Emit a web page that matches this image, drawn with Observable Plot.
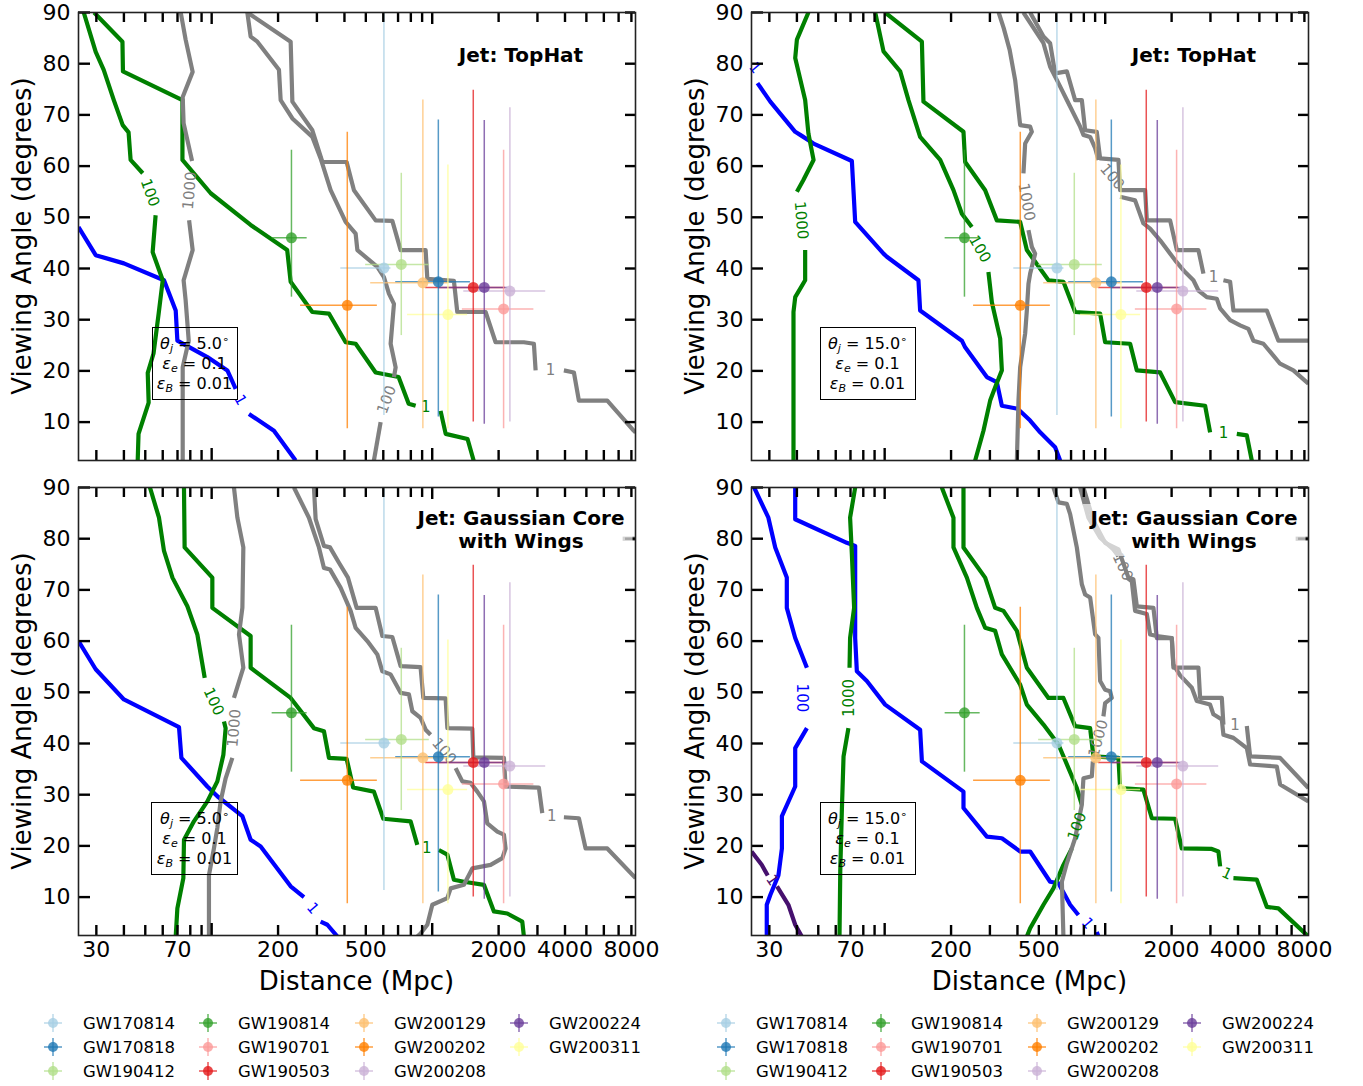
<!DOCTYPE html>
<html>
<head>
<meta charset="utf-8">
<script src="https://cdn.jsdelivr.net/npm/d3@7"></script>
<script src="https://cdn.jsdelivr.net/npm/@observablehq/plot@0.6"></script>
<style>
  html, body { margin: 0; padding: 0; background: #fff; }
  #root { position: relative; width: 1363px; height: 1086px; overflow: hidden; font-family: "DejaVu Sans", sans-serif; color: #000; }
  .abs { position: absolute; }
  .axlab { position: absolute; font-size: 26px; white-space: nowrap; transform: translate(-50%, -50%); }
  .ylab { transform: translate(-50%, -50%) rotate(-90deg); }
  .title { position: absolute; transform: translate(-50%, -50%); background: rgba(255,255,255,0.65); padding: 3px 8px; font-weight: bold; font-size: 20px; line-height: 23px; text-align: center; white-space: nowrap; }
  .pbox { position: absolute; border: 1.3px solid #000; box-sizing: border-box; font-size: 16px; line-height: 20px; text-align: center; display: flex; flex-direction: column; justify-content: center; white-space: nowrap; }
  .pbox sub { font-size: 11px; vertical-align: -3px; line-height: 0; }
  .pbox sup { font-size: 11px; vertical-align: 6px; line-height: 0; }
  .leg { position: absolute; font-size: 16.5px; white-space: nowrap; transform: translateY(-50%); }
</style>
</head>
<body>
<div id="root"></div>
<script>
// ---------------- axes ----------------
const XDOM = [24.9, 8350];
const YDOM = [2.5, 90];
const yTicks = [10, 20, 30, 40, 50, 60, 70, 80, 90];
const xTickLabels = [30, 70, 200, 500, 2000, 4000, 8000];
const xMinorTicks = [30, 40, 50, 60, 70, 80, 90, 200, 300, 400, 500, 600, 700, 800, 900, 2000, 3000, 4000, 5000, 6000, 7000, 8000];
const xMajorTicks = [100, 1000];

// ---------------- events (error bars) ----------------
const events   = ["GW170814","GW170818","GW190412","GW190814","GW190701","GW190503","GW200129","GW200202","GW200208","GW200224","GW200311"];
const eventColors = ["#a6cee3","#1f78b4","#b2df8a","#33a02c","#fb9a99","#e31a1c","#fdbf6f","#ff7f00","#cab2d6","#6a3d9a","#ffff99"];
const distance = [604, 1066, 724, 230, 2107, 1535, 907, 412, 2250, 1722, 1178];
const distLo   = [385, 683, 499, 188, 1370, 933, 526, 253, 1390, 1070, 773];
const distHi   = [650, 1490, 970, 271, 2890, 2150, 1190, 564, 3270, 2200, 1447];
const angle    = [40.1, 37.4, 40.8, 46.0, 32.1, 36.3, 37.2, 32.8, 35.6, 36.3, 31.0];
const angleLo  = [11.3, 11.0, 26.9, 34.4, 8.7, 10.0, 8.7, 8.7, 10.0, 9.6, 8.7];
const angleHi  = [90, 69.0, 58.6, 63.1, 63.1, 74.8, 72.9, 66.6, 71.4, 68.9, 60.2];

// ---------------- Panel 1: TopHat, theta_j = 5 ----------------
const TH5_blue1_a = [[24.9,48.1],[29.8,42.6],[40.0,41.0],[60.8,37.7],[68.7,31.8],[69.9,25.9],[95.6,22.7],[117.8,20.1],[128.5,16.5]];
const TH5_blue1_b = [[147.6,11.6],[191.6,8.3],[240.3,2.5]];
const TH5_green100_a = [[26.3,90],[29.8,82.3],[32.4,78.8],[36.0,72.9],[39.5,68.0],[42.0,66.6],[42.9,61.2],[48.7,58.6]];
const TH5_green100_b = [[55.7,50.4],[54.0,43.2],[60.0,37.7],[57.5,31.2],[54.5,23.4],[51.3,19.6],[51.8,13.8],[46.6,7.7],[46.2,2.5]];
const TH5_green1_a = [[29.3,90],[39.4,84.3],[39.6,78.5],[73.7,72.9],[73.7,61.2],[99.0,54.7],[150.2,48.5],[220.0,43.6],[228.1,37.4],[286,31.5],[340.2,31.2],[405,25.6],[449.6,25.3],[553.9,19.7],[704,18.8],[782,13.6],[841,13.2]];
const TH5_green1_b = [[1091,12.2],[1151,7.7],[1446,6.7],[1541,2.5]];
const TH5_gray1000_a = [[72.4,90],[76.2,84.7],[82.0,78.4],[73.9,73.5],[74.6,68.4],[81.5,61.0]];
const TH5_gray1000_b = [[79.0,49.4],[82.0,43.6],[74.6,37.7],[76.2,33.8],[78.7,25.9],[73.9,20.7],[73.9,2.5]];
const TH5_gray1_a = [[145.1,90],[228.1,84.3],[232.2,72.6],[286.1,67.0],[317.6,60.8],[409.3,60.8],[441.7,55.3],[553.9,49.4],[659.4,49.3],[719.1,43.6],[933.5,43.6],[950.1,38.0],[1254,37.6],[1299,31.5],[1746,31.5],[1938,25.6],[2604,25.6],[2891,25.3],[2943,20.1]];
const TH5_gray1_b = [[3954,20.1],[4389,19.7],[4624,14.2],[6220,14.2],[8209,8.3],[8356,8.0]];
const TH5_gray100_a = [[145.1,90],[150.2,85.3],[161.1,84.3],[201.9,78.8],[205.5,72.9],[232.2,69.3],[286.1,65.7],[311.9,61.5],[346.3,55.3],[405,49.1],[449.6,46.8],[457.7,43.6],[563.7,40.3],[604,38.3],[636.3,35.1],[670.6,33.1],[647.8,25.3],[682.6,20.7],[670.6,18.8]];
const TH5_gray100_b = [[583.5,10.0],[544,2.5]];
const TH5_labels = [["100",52.5,54.8],["1000",79.5,55.2],["1",135,14.3],["1",935,12.9],["100",622,14.4],["1",3441,20.1]];

// ---------------- Panel 2: TopHat, theta_j = 15 ----------------
const TH15_blue1 = [[26.5,76.2],[30.3,72.6],[39.3,66.7],[41.4,66.1],[47.6,64.4],[71.0,61.0],[72.2,55.3],[73.5,49.1],[98.8,42.9],[102.3,42.3],[142.3,37.7],[144.8,31.8],[223.9,25.9],[231.7,24.6],[290.6,18.8],[322.6,17.8],[339.9,13.2],[400.8,12.6],[456.7,10.3],[506.9,8.0],[592.8,5.1],[624.6,2.5]];
const TH15_green1000_a = [[45.1,90],[40.0,84.7],[39.3,81.1],[43.6,72.9],[45.1,66.4],[47.6,61.2],[42.8,57.3],[40.0,55.0]];
const TH15_green1000_b = [[43.6,43.6],[43.6,37.7],[39.3,34.4],[38.6,31.5],[38.6,2.5]];
const TH15_green100_a = [[90.6,90],[98.8,82.4],[117.6,78.5],[128.2,72.9],[144.8,65.7],[178.5,61.2],[205.1,55.3],[223.9,50.7],[248.5,48.1]];
const TH15_green100_b = [[295.4,39.3],[306.2,33.4],[334,26.3],[339.9,20.1],[316.9,16.8],[300.8,14.2],[280.5,8.3],[257.2,2.5]];
const TH15_green1_a = [[100.5,90],[147.5,84.3],[149.9,72.6],[227.7,66.7],[231.7,60.8],[285.5,55.3],[322.6,49.4],[411.5,49.1],[441.2,43.6],[552.7,37.7],[646.4,37.4],[730.2,31.5],[948.2,31.2],[999,25.6],[1297,25.3],[1391,20.1],[1774,19.7],[2075,13.9],[2837,13.2],[2989,8.0]];
const TH15_green1_b = [[3950,7.7],[4385,7.4],[4619,2.5]];
const TH15_gray1000_a = [[328.8,90],[346.3,87.0],[368.7,82.7],[390.5,76.8],[411.5,68.0],[456.7,67.7],[464.9,66.7],[433.5,64.4],[425.8,58.6]];
const TH15_gray1000_b = [[448.7,47.5],[464.9,44.2],[481.1,42.9],[456.7,39.0],[448.7,37.0],[441.2,31.8],[433.5,27.3],[411.5,20.7],[404.3,14.2],[397.6,2.5]];
const TH15_gray1_a = [[456.7,90],[524.8,85.3],[562.6,84.0],[592.8,78.1],[669.9,78.5],[730.2,72.9],[783.3,72.9],[810.8,67.0],[915.6,66.7],[948.2,61.5],[1148,61.2],[1168,55.3],[1517,55.3],[1544,49.4],[1969,49.4],[2112,43.6],[2646,43.6],[2788,39.0]];
const TH15_gray1_b = [[3435,37.7],[3684,37.4],[3813,31.8],[5402,31.8],[6099,25.9],[8341,25.9]];
const TH15_gray100_a = [[425.8,90],[524.8,84.0],[562.6,79.4],[613.6,76.2],[669.9,72.9],[769.5,67.7],[796.5,66.1],[854.3,65.7],[900.2,63.5],[931.6,61.2]];
const TH15_gray100_b = [[1168,54.0],[1366,53.3],[1490,48.8],[1598,47.8],[1774,45.5],[2075,41.6],[2302,39.3],[2511,37.7],[2646,35.7],[2888,34.4],[3206,34.1],[3319,32.2],[3684,29.9],[4089,28.9],[4459,28.2],[4697,25.9],[5214,25.3],[5788,23.0],[6206,21.4],[7131,20.1],[8341,17.5]];
const TH15_labels = [["1",25.8,79.2],["1000",41.8,49.4],["100",270,43.8],["1000",440,53.0],["100",1075,57.9],["1",3100,38.3],["1",3435,7.9]];

// ---------------- Panel 3: Gaussian core, theta_j = 5 ----------------
const GC5_blue1_a = [[24.9,60.0],[29.8,54.5],[40.0,48.6],[71.1,43.2],[72.9,37.2],[95.6,31.6],[106.1,29.7],[137.8,25.8],[150.2,21.2],[166.8,19.9],[228.1,12.1],[262.1,10.0]];
const GC5_blue1_b = [[311.9,5.2],[334.6,4.6],[371.5,2.3]];
const GC5_green100_a = [[52.5,90],[57.7,84.1],[60.8,77.6],[66.4,72.4],[77.6,66.8],[86.1,61.3],[93.0,52.8]];
const GC5_green100_b = [[113.7,44.3],[115.7,43.0],[113.0,37.8],[106.1,32.6],[95.6,28.7],[83.1,24.8],[74.9,21.2],[74.4,13.7],[69.9,7.8],[68.7,2.3]];
const GC5_green1_a = [[74.9,90],[75.4,78.3],[100.7,72.4],[100.7,66.5],[150.2,61.0],[150.2,54.8],[228.1,48.9],[290.9,43.0],[322.9,42.4],[340.2,37.2],[409.3,37.0],[438,31.4],[544,30.6],[600.3,25.3],[798,24.8],[855.8,20.2]];
const GC5_green1_b = [[1072,19.2],[1171,18.3],[1254,13.4],[1392,13.0],[1716,12.4],[1904,7.2],[2190,6.8],[2561,5.2],[2604,2.3]];
const GC5_gray1000_a = [[126.2,90],[130.8,84.1],[139.2,78.3],[137.8,66.5],[133.0,61.3],[139.2,54.8],[126.2,48.9]];
const GC5_gray1000_b = [[124.1,37.2],[115.7,33.2],[109.8,28.7],[106.1,23.5],[102.4,19.5],[97.2,14.3],[97.2,2.3]];
const GC5_gray1_a = [[290.9,90],[296.1,83.8],[322.9,78.6],[343.9,78.3],[377.7,75.3],[414.9,72.4],[454.4,66.5],[553.9,66.5],[594,61.0],[659.4,60.8],[719.1,55.1],[885.6,54.9],[911,48.9],[1150,48.8],[1171,43.0],[1520,42.9],[1536,37.3],[2114,37.2],[2151,31.6],[3045,31.4],[3155,26.4]];
const GC5_gray1_b = [[3954,25.6],[4624,25.4],[4960,19.5],[6220,19.5],[8356,13.7]];
const GC5_gray100_a = [[236.1,90],[276.1,84.1],[306.5,78.3],[322.9,74.3],[343.9,74.0],[384.5,70.4],[426.7,65.9],[449.6,62.6],[507.9,60.0],[563.7,57.4],[594,54.1],[647.8,53.5],[719.1,49.9],[784.2,49.6],[812.5,46.3],[885.6,45.0],[933.5,42.7],[983.4,41.7]];
const GC5_gray100_b = [[1277,35.2],[1369,32.6],[1493,32.3],[1601,30.6],[1716,28.7],[1777,24.4],[1973,22.8],[2114,22.2],[2151,19.5],[2079,17.6],[1840,16.3],[1520,15.6],[1392,12.4],[1212,11.7],[1171,9.8],[1001,8.5],[950.1,4.6],[885.6,2.9],[855.8,2.3]];
const GC5_grayEdge = [[7300,80.0],[8356,80.0]];
const GC5_labels = [["1",287,7.8],["100",102,48.2],["1000",126.5,43.0],["1",945,19.5],["100",1133,38.5],["1",3480,25.9]];

// ---------------- Panel 4: Gaussian core, theta_j = 15 ----------------
const GC15_blue100_a = [[25.6,90],[29.7,84.1],[31.9,78.3],[36.0,72.4],[36.0,66.5],[39.3,60.6],[44.4,54.8]];
const GC15_blue100_b = [[44.4,43.0],[39.3,39.1],[39.3,31.6],[34.2,25.8],[34.2,19.5],[33.0,14.3],[30.3,10.4],[29.2,8.5],[29.2,2.3]];
const GC15_blue1_a = [[39.3,90],[39.3,83.8],[67.4,79.2],[73.5,78.6],[73.5,60.6],[74.8,54.1],[83.0,52.2],[100.5,47.6],[144.8,42.7],[147.5,36.5],[227.7,30.6],[227.7,27.4],[290.6,21.8],[339.9,21.5],[411.5,18.9],[456.7,18.9],[562.6,13.0],[613.6,12.7],[693.4,8.5],[755.9,6.5]];
const GC15_blue1_b = [[915.6,3.2],[931.6,2.3]];
const GC15_purple1_a = [[24.9,18.9],[27.7,16.3],[29.5,14.2]];
const GC15_purple1_b = [[32.5,12.1],[36.6,8.5],[39.3,4.6],[42.1,2.3]];
const GC15_green1000_a = [[73.5,90],[69.7,84.1],[71.0,77.0],[72.7,66.5],[69.7,60.6],[69.3,54.8]];
const GC15_green1000_b = [[68.5,43.0],[65.1,37.5],[64.0,27.4],[62.9,15.0],[62.4,2.3]];
const GC15_green100_a = [[181.6,90],[205.1,84.1],[205.1,78.3],[235.9,72.4],[261.8,66.5],[285.5,62.6],[316.9,62.0],[339.9,57.4],[411.5,51.5],[441.2,47.6],[524.8,43.7],[613.6,39.8],[681.2,35.2],[743.4,31.3],[783.3,28.0]];
const GC15_green100_b = [[705.8,19.5],[646.4,16.3],[582.3,11.7],[524.8,8.5],[456.7,3.9],[441.2,2.3]];
const GC15_green1_a = [[227.7,90],[227.7,78.3],[285.5,72.4],[316.9,66.5],[345.6,65.9],[397.6,62.0],[441.2,54.8],[552.7,48.9],[646.4,48.9],[730.2,43.4],[854.3,43.0],[884,37.5],[1148,37.2],[1168,31.3],[1490,31.0],[1627,25.4],[2075,25.3],[2224,19.5],[3042,19.4],[3260,18.9],[3319,16.0]];
const GC15_green1_b = [[3813,13.7],[4867,13.4],[5402,8.1],[6099,7.8],[8341,2.3]];
const GC15_gray1000_a = [[646.4,2.3],[636.0,13.0],[669.9,16.6],[730.2,21.5],[783.3,28.0],[796.5,33.2],[869.6,33.6],[878.6,36.5]];
const GC15_gray1000_b = [[981.3,45.3],[999,47.9],[1071,48.9],[1052,50.2],[999,50.5],[948.2,52.2],[931.6,60.6],[900.2,61.3],[854.3,68.5],[810.8,69.1],[783.3,71.1],[743.4,78.3],[693.4,84.8],[669.9,86.8],[613.6,87.1],[582.3,90]];
const GC15_gray100_a = [[769.5,90],[838.9,84.1],[948.2,80.2],[1089,77.9],[1148,76.6]];
const GC15_gray100_b = [[1253,72.4],[1320,71.7],[1366,65.9],[1544,65.3],[1598,61.3],[1714,61.0],[2004,60.6],[2038,55.4],[2186,53.3],[2470,50.9],[2601,48.3],[2989,47.6],[3094,45.7],[3378,44.7],[3435,41.7],[3813,41.1],[4385,39.1],[4539,35.9],[5998,35.5],[6206,32.0],[8341,28.7]];
const GC15_gray1_a = [[796.5,90],[884,83.5],[999,79.2],[1148,77.9],[1274,72.4],[1342,72.1],[1391,66.8],[1654,66.5],[1714,60.6],[2004,60.6],[2038,54.8],[2646,54.8],[2693,48.9],[3378,48.9],[3435,43.7]];
const GC15_gray1_b = [[4385,43.4],[4539,37.5],[6206,37.2],[8341,31.3]];
const GC15_grayEdge = [[7300,80.0],[8356,80.0]];
const GC15_labels = [["100",42.3,48.9],["1000",68.8,48.9],["1",30.9,13.3],["100",1200,74.5],["1",3880,43.5],["1000",930,41.0],["100",745,23.8],["1",3560,14.6],["1",832,4.9]];

// ---------------- styling ----------------
const GRAY = "#808080", GREEN = "#008000", BLUE = "#0000ff", PURPLE = "#46106e";
const W = 557, H = 448, ML = 78, MT = 12, MR = 14, MB = 52;

const panels = [
  { left: 0, top: 0, showX: false, title: ["Jet: TopHat"], theta: "5.0", boxW: 86,
    lines: [["a",BLUE,TH5_blue1_a],["b",BLUE,TH5_blue1_b],["c",GREEN,TH5_green100_a],["d",GREEN,TH5_green100_b],
            ["e",GREEN,TH5_green1_a],["f",GREEN,TH5_green1_b],["g",GRAY,TH5_gray1000_a],["h",GRAY,TH5_gray1000_b],
            ["i",GRAY,TH5_gray1_a],["j",GRAY,TH5_gray1_b],["k",GRAY,TH5_gray100_a],["l",GRAY,TH5_gray100_b]],
    labels: TH5_labels, labelStyle: [[GREEN,70],[GRAY,-85],[BLUE,60],[GREEN,0],[GRAY,-70],[GRAY,0]] },
  { left: 673, top: 0, showX: false, title: ["Jet: TopHat"], theta: "15.0", boxW: 96,
    lines: [["a",BLUE,TH15_blue1],["c",GREEN,TH15_green1000_a],["d",GREEN,TH15_green1000_b],["e",GREEN,TH15_green100_a],
            ["f",GREEN,TH15_green100_b],["g",GREEN,TH15_green1_a],["h",GREEN,TH15_green1_b],["i",GRAY,TH15_gray1000_a],
            ["j",GRAY,TH15_gray1000_b],["k",GRAY,TH15_gray1_a],["l",GRAY,TH15_gray1_b],["m",GRAY,TH15_gray100_a],["n",GRAY,TH15_gray100_b]],
    labels: TH15_labels, labelStyle: [[BLUE,50],[GREEN,85],[GREEN,60],[GRAY,80],[GRAY,50],[GRAY,0],[GREEN,0]] },
  { left: 0, top: 475, showX: true, title: ["Jet: Gaussian Core", "with Wings"], theta: "5.0", boxW: 87,
    lines: [["a",BLUE,GC5_blue1_a],["b",BLUE,GC5_blue1_b],["c",GREEN,GC5_green100_a],["d",GREEN,GC5_green100_b],
            ["e",GREEN,GC5_green1_a],["f",GREEN,GC5_green1_b],["g",GRAY,GC5_gray1000_a],["h",GRAY,GC5_gray1000_b],
            ["i",GRAY,GC5_gray1_a],["j",GRAY,GC5_gray1_b],["k",GRAY,GC5_gray100_a],["l",GRAY,GC5_gray100_b],["m",GRAY,GC5_grayEdge]],
    labels: GC5_labels, labelStyle: [[BLUE,50],[GREEN,65],[GRAY,-85],[GREEN,0],[GRAY,50],[GRAY,0]] },
  { left: 673, top: 475, showX: true, title: ["Jet: Gaussian Core", "with Wings"], theta: "15.0", boxW: 96,
    lines: [["a",BLUE,GC15_blue100_a],["b",BLUE,GC15_blue100_b],["c",BLUE,GC15_blue1_a],["d",BLUE,GC15_blue1_b],
            ["e",PURPLE,GC15_purple1_a],["f",PURPLE,GC15_purple1_b],["g",GREEN,GC15_green1000_a],["h",GREEN,GC15_green1000_b],
            ["i",GREEN,GC15_green100_a],["j",GREEN,GC15_green100_b],["k",GREEN,GC15_green1_a],["l",GREEN,GC15_green1_b],
            ["m",GRAY,GC15_gray1000_a],["n",GRAY,GC15_gray1000_b],["o",GRAY,GC15_gray100_a],["p",GRAY,GC15_gray100_b],
            ["q",GRAY,GC15_gray1_a],["r",GRAY,GC15_gray1_b],["s",GRAY,GC15_grayEdge]],
    labels: GC15_labels, labelStyle: [[BLUE,90],[GREEN,-90],[PURPLE,55],[GRAY,65],[GRAY,0],[GRAY,-75],[GREEN,-70],[GREEN,25],[BLUE,50]] }
];

const root = document.getElementById("root");
const ev = events.map((name, i) => ({
  name, color: eventColors[i], d: distance[i], dLo: distLo[i], dHi: distHi[i],
  a: angle[i], aLo: angleLo[i], aHi: angleHi[i]
}));

function el(tag, cls, css, html) {
  const e = document.createElement(tag);
  if (cls) e.className = cls;
  Object.assign(e.style, css || {});
  if (html != null) e.innerHTML = html;
  root.appendChild(e);
  return e;
}

panels.forEach(p => {
  const rows = p.lines.flatMap(([id, color, pts]) => pts.map(([d, a]) => ({ id, color, d, a })));
  const labs = p.labels.map(([t, d, a], i) => ({ t, d, a, color: p.labelStyle[i][0], rot: p.labelStyle[i][1] }));
  const marks = [
    Plot.line(rows, { x: "d", y: "a", z: "id", stroke: "color", strokeWidth: 4.2, strokeLinejoin: "round", strokeLinecap: "butt", clip: true }),
    Plot.text(labs, { x: "d", y: "a", text: "t", fill: "color", rotate: "rot", fontSize: 15 }),
    Plot.ruleY(ev, { y: "a", x1: "dLo", x2: "dHi", stroke: "color", strokeWidth: 1.5, strokeOpacity: 0.75, clip: true }),
    Plot.ruleX(ev, { x: "d", y1: "aLo", y2: "aHi", stroke: "color", strokeWidth: 1.5, strokeOpacity: 0.75, clip: true }),
    Plot.dot(ev, { x: "d", y: "a", r: 5.5, fill: "color", fillOpacity: 0.8 }),
    // inward ticks
    Plot.ruleX(xMinorTicks, { x: d => d, insetTop: H - 10, stroke: "#000", strokeWidth: 2.4 }),
    Plot.ruleX(xMinorTicks, { x: d => d, insetBottom: H - 10, stroke: "#000", strokeWidth: 2.4 }),
    Plot.ruleX(xMajorTicks, { x: d => d, insetTop: H - 12, stroke: "#000", strokeWidth: 2.4 }),
    Plot.ruleX(xMajorTicks, { x: d => d, insetBottom: H - 12, stroke: "#000", strokeWidth: 2.4 }),
    Plot.ruleY(yTicks, { y: d => d, insetRight: W - 12, stroke: "#000", strokeWidth: 2.4 }),
    Plot.ruleY(yTicks, { y: d => d, insetLeft: W - 10, stroke: "#000", strokeWidth: 2.4 }),
    Plot.frame({ stroke: "#222", strokeWidth: 1.6 })
  ];
  if (p.showX) {
    marks.push(Plot.text(xTickLabels, { x: d => d, text: d => String(d), frameAnchor: "bottom", lineAnchor: "top", dy: 6, fontSize: 22, fill: "#000" }));
  }
  const chart = Plot.plot({
    width: ML + W + MR, height: MT + H + MB,
    marginLeft: ML, marginTop: MT, marginRight: MR, marginBottom: MB,
    x: { type: "log", domain: XDOM, axis: null },
    y: { domain: YDOM, ticks: yTicks, tickSize: 0, tickPadding: 8, label: null },
    color: { type: "identity" },
    style: { fontFamily: "DejaVu Sans", fontSize: "22px", background: "transparent", overflow: "visible", color: "#000" },
    marks
  });
  chart.style.position = "absolute";
  chart.style.left = p.left + "px";
  chart.style.top = p.top + "px";
  root.appendChild(chart);

  const fx = p.left + ML, fy = p.top + MT;
  // title with translucent box
  el("div", "title", { left: (fx + 443) + "px", top: (fy + 43) + "px" }, p.title.join("<br>"));
  // parameter box
  el("div", "pbox", { left: (fx + 116.5 - p.boxW / 2) + "px", top: (fy + 315) + "px", width: p.boxW + "px", height: "73px" },
    `<div><i>θ</i><sub><i>j</i></sub> = ${p.theta}<sup>∘</sup></div>` +
    `<div><i>ε</i><sub><i>e</i></sub> = 0.1</div>` +
    `<div><i>ε</i><sub><i>B</i></sub> = 0.01</div>`);
  // y label
  el("div", "axlab ylab", { left: (p.left + 22) + "px", top: (fy + H / 2) + "px" }, "Viewing Angle (degrees)");
  if (p.showX) el("div", "axlab", { left: (fx + W / 2) + "px", top: (p.top + MT + H + 46) + "px" }, "Distance (Mpc)");
});

// legends (column-major, 4 columns x 3 rows)
const legCols = [53, 208, 364, 519];
const legRows = [1023, 1047, 1071];
[0, 673].forEach(off => {
  events.forEach((name, i) => {
    const c = Math.floor(i / 3), r = i % 3;
    const cx = off + legCols[c], cy = legRows[r];
    const col = eventColors[i];
    el("div", "abs", { left: (cx - 10) + "px", top: (cy - 10) + "px", width: "20px", height: "20px" },
      `<svg width="20" height="20" viewBox="-10 -10 20 20">
        <line x1="-9" y1="0" x2="9" y2="0" stroke="${col}" stroke-width="1.5" stroke-opacity="0.75"/>
        <line x1="0" y1="-9" x2="0" y2="9" stroke="${col}" stroke-width="1.5" stroke-opacity="0.75"/>
        <circle r="5" fill="${col}" fill-opacity="0.8"/></svg>`);
    el("div", "leg", { left: (cx + 30) + "px", top: cy + "px" }, name);
  });
});
</script>
</body>
</html>
